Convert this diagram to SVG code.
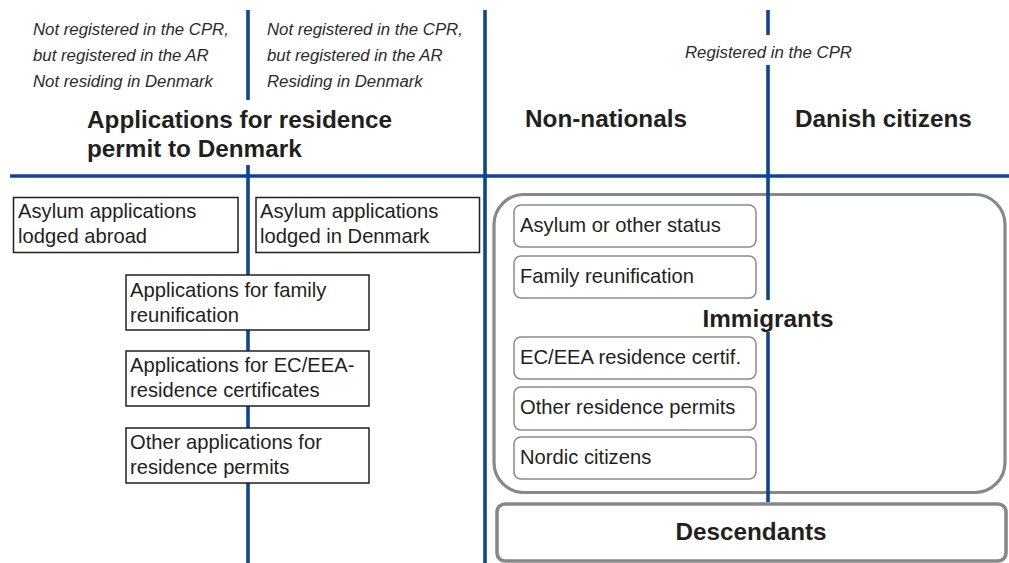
<svg xmlns="http://www.w3.org/2000/svg" width="1009" height="563" viewBox="0 0 1009 563">
<style>
.blue{stroke:#0b4693;stroke-width:3.6;fill:none}
.hdr{font-family:"Liberation Sans",Arial,sans-serif;font-style:italic;font-size:16.8px;fill:#2b2b2b}
.big{font-family:"Liberation Sans",Arial,sans-serif;font-weight:bold;font-size:24.3px;fill:#231f20}
.box{fill:#fff;stroke:#231f20;stroke-width:1.5}
.rbox{fill:#fff;stroke:#8a8a8c;stroke-width:1.5}
.txt{font-family:"Liberation Sans",Arial,sans-serif;font-size:20.2px;fill:#231f20}
</style>
<rect width="1009" height="563" fill="#fff"/>
<g id="grid">
<line class="blue" x1="248" y1="10" x2="248" y2="100"/>
<line class="blue" x1="248" y1="165" x2="248" y2="563"/>
<line class="blue" x1="485" y1="10" x2="485" y2="563"/>
<line class="blue" x1="10" y1="176" x2="1009" y2="176"/>
</g>
<g id="headers">
<text class="hdr" x="33" y="35">Not registered in the CPR,</text>
<text class="hdr" x="33" y="61">but registered in the AR</text>
<text class="hdr" x="33" y="87">Not residing in Denmark</text>
<text class="hdr" x="267" y="35">Not registered in the CPR,</text>
<text class="hdr" x="267" y="61">but registered in the AR</text>
<text class="hdr" x="267" y="87">Residing in Denmark</text>
<text class="hdr" x="685" y="58">Registered in the CPR</text>
<text class="big" x="87" y="128">Applications for residence</text>
<text class="big" x="87" y="157">permit to Denmark</text>
<text class="big" x="525" y="127">Non-nationals</text>
<text class="big" x="795" y="127">Danish citizens</text>
</g>
<g id="immigrants">
<rect x="494" y="194.5" width="511" height="298" rx="30" ry="30" fill="none" stroke="#87888a" stroke-width="3.2"/>
</g>
<g id="connectors">
<line class="blue" x1="768" y1="10" x2="768" y2="35"/>
<line class="blue" x1="768" y1="65" x2="768" y2="300"/>
<line class="blue" x1="768" y1="332" x2="768" y2="502"/>
</g>
<text id="immigrants-label" class="big" x="768" y="327" text-anchor="middle">Immigrants</text>
<g id="descendants">
<rect x="497" y="504" width="509" height="57" rx="8" ry="8" fill="#fff" stroke="#87888a" stroke-width="3.6"/>
<text class="big" x="751" y="540" text-anchor="middle">Descendants</text>
</g>
<g id="asylum-abroad">
<rect class="box" x="13.5" y="197.5" width="224.5" height="55"/>
<text class="txt" x="18" y="218">Asylum applications</text>
<text class="txt" x="18" y="243">lodged abroad</text>
</g>
<g id="asylum-dk">
<rect class="box" x="256" y="197.5" width="223.5" height="55"/>
<text class="txt" x="260" y="218">Asylum applications</text>
<text class="txt" x="260" y="243">lodged in Denmark</text>
</g>
<g id="app-family">
<rect class="box" x="126" y="275" width="243" height="55"/>
<text class="txt" x="130" y="297">Applications for family</text>
<text class="txt" x="130" y="322">reunification</text>
</g>
<g id="app-eea">
<rect class="box" x="126" y="351" width="243" height="55"/>
<text class="txt" x="130" y="372">Applications for EC/EEA-</text>
<text class="txt" x="130" y="397">residence certificates</text>
</g>
<g id="app-other">
<rect class="box" x="126" y="428" width="243" height="55"/>
<text class="txt" x="130" y="449">Other applications for</text>
<text class="txt" x="130" y="474">residence permits</text>
</g>
<g id="st-asylum">
<rect class="rbox" x="514" y="205" width="242" height="42" rx="7"/>
<text class="txt" x="520" y="232">Asylum or other status</text>
</g>
<g id="st-family">
<rect class="rbox" x="514" y="256" width="242" height="42" rx="7"/>
<text class="txt" x="520" y="283">Family reunification</text>
</g>
<g id="st-eea">
<rect class="rbox" x="514" y="337" width="242" height="42" rx="7"/>
<text class="txt" x="520" y="364">EC/EEA residence certif.</text>
</g>
<g id="st-other">
<rect class="rbox" x="514" y="387" width="242" height="43" rx="7"/>
<text class="txt" x="520" y="414">Other residence permits</text>
</g>
<g id="st-nordic">
<rect class="rbox" x="514" y="437" width="242" height="42" rx="7"/>
<text class="txt" x="520" y="464">Nordic citizens</text>
</g>
</svg>
